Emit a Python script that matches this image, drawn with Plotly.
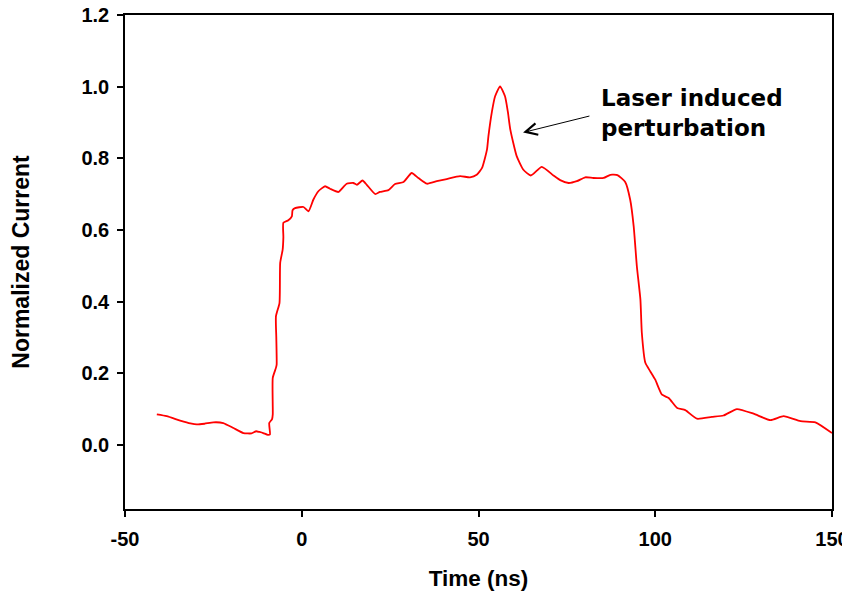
import plotly.graph_objects as go

# Time (ns) and normalized current
time_ns = [-41.0, -38.2, -34.4, -31.5, -29.7, -27.5, -25.0, -22.2, -19.3, -16.5,
           -14.2, -12.9, -12.0, -10.9, -9.6, -9.0, -9.2, -8.4, -8.2, -8.2,
           -7.3, -7.1, -7.2, -7.3, -6.3, -6.1, -5.4, -5.2, -5.2, -3.8,
           -2.8, -2.6, -1.9, 0.5, 1.9, 3.3, 4.7, 6.6, 8.0, 10.4,
           12.7, 14.6, 15.6, 17.2, 18.4, 20.8, 22.1, 24.5, 26.4, 28.8,
           31.1, 33.0, 35.4, 38.2, 41.0, 44.8, 47.6, 49.5, 51.0, 52.4,
           52.8, 53.8, 54.7, 56.1, 57.5, 58.3, 59.0, 60.8, 62.7, 64.8,
           67.9, 71.2, 73.1, 75.5, 77.8, 80.2, 82.5, 85.4, 87.3, 89.3,
           91.5, 92.9, 93.9, 94.8, 95.8, 96.2, 97.2, 98.6, 100.0, 101.9,
           103.8, 106.2, 108.5, 111.8, 116.0, 119.3, 123.1, 127.8, 132.6, 136.3,
           141.1, 145.3, 150.0]
current = [0.085, 0.080, 0.068, 0.060, 0.057, 0.059, 0.063, 0.061, 0.047, 0.033,
           0.032, 0.038, 0.036, 0.033, 0.028, 0.029, 0.061, 0.072, 0.085, 0.187,
           0.215, 0.224, 0.30, 0.359, 0.396, 0.508, 0.545, 0.58, 0.62, 0.627,
           0.638, 0.655, 0.661, 0.664, 0.652, 0.685, 0.708, 0.722, 0.715, 0.706,
           0.729, 0.731, 0.726, 0.738, 0.726, 0.700, 0.706, 0.711, 0.728, 0.734,
           0.759, 0.745, 0.729, 0.736, 0.742, 0.750, 0.747, 0.754, 0.773, 0.824,
           0.861, 0.930, 0.973, 1.001, 0.973, 0.930, 0.880, 0.806, 0.768, 0.752,
           0.776, 0.752, 0.739, 0.731, 0.736, 0.747, 0.745, 0.745, 0.754, 0.753,
           0.734, 0.685, 0.610, 0.498, 0.406, 0.313, 0.229, 0.205, 0.182, 0.140,
           0.131, 0.103, 0.097, 0.073, 0.078, 0.082, 0.100, 0.087, 0.069, 0.080,
           0.066, 0.063, 0.033]

x_ticks = [-50, 0, 50, 100, 150]
x_tick_labels = ["-50", "0", "50", "100", "150"]
y_ticks = [0.0, 0.2, 0.4, 0.6, 0.8, 1.0, 1.2]
y_tick_labels = ["0.0", "0.2", "0.4", "0.6", "0.8", "1.0", "1.2"]

annotation_text = "Laser induced<br>perturbation"
arrow_tip = (62.6, 0.872)
arrow_tail = (81.8, 0.919)
text_pos = (84.0, 0.927)

FONT = "Liberation Sans, Arial, sans-serif"

fig = go.Figure()
fig.add_trace(go.Scatter(x=time_ns, y=current, mode="lines",
                         line=dict(color="#ff0000", width=1.8, shape="spline", smoothing=0.5),
                         showlegend=False, hoverinfo="skip"))

axis_common = dict(showline=True, linecolor="black", linewidth=1.5, mirror=True,
                   ticks="outside", ticklen=6, tickwidth=1.5, tickcolor="black",
                   showgrid=False, zeroline=False, automargin=False,
                   ticklabeloverflow="allow",
                   tickfont=dict(family=FONT, size=20, color="black"))

fig.update_xaxes(range=[-50, 150], tickvals=x_ticks,
                 ticktext=["<b>%s</b>" % t for t in x_tick_labels],
                 ticklabelstandoff=5,
                 title=dict(text="<b>Time (ns)</b>", standoff=21,
                            font=dict(family=FONT, size=22.5, color="black")),
                 **axis_common)
fig.update_yaxes(range=[-0.179, 1.2], tickvals=y_ticks,
                 ticktext=["<b>%s</b>" % t for t in y_tick_labels],
                 ticklabelstandoff=4,
                 title=dict(text="<b>Normalized Current</b>", standoff=50,
                            font=dict(family=FONT, size=23, color="black")),
                 **axis_common)

fig.add_annotation(x=arrow_tip[0], y=arrow_tip[1], ax=arrow_tail[0], ay=arrow_tail[1],
                   xref="x", yref="y", axref="x", ayref="y", text="",
                   showarrow=True, arrowhead=5, arrowsize=2.3, arrowwidth=1,
                   arrowcolor="black")
fig.add_annotation(x=text_pos[0], y=text_pos[1], xref="x", yref="y",
                   text="<b>" + annotation_text.replace("<br>", "</b><br><b>") + "</b>",
                   showarrow=False, xanchor="left", yanchor="middle", align="left",
                   font=dict(family="DejaVu Sans, sans-serif", size=23, color="black"))

# the page body adds an 8 px offset, so margins are adjusted to land the plot area
fig.update_layout(width=850, height=597, margin=dict(l=117, r=26, t=7, b=96),
                  plot_bgcolor="white", paper_bgcolor="white")

fig.write_html("out.html")
